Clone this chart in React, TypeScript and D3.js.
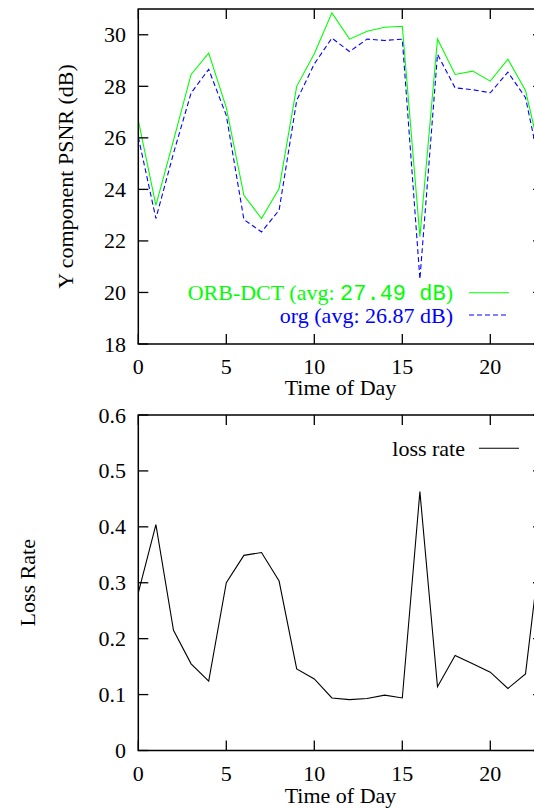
import React from "react";
import * as d3 from "d3";

const hours = d3.range(0, 24);
const orbDct = [26.68, 23.38, 25.9, 28.46, 29.29, 27.17, 23.77, 22.87, 24.03, 28.0, 29.26, 30.85, 29.83, 30.14, 30.29, 30.33, 22.16, 29.84, 28.46, 28.59, 28.2, 29.05, 27.84, 24.9];
const org = [26.03, 22.87, 25.4, 27.74, 28.66, 26.87, 22.83, 22.35, 23.19, 27.45, 28.87, 29.87, 29.35, 29.83, 29.78, 29.83, 20.52, 29.24, 27.94, 27.87, 27.75, 28.55, 27.56, 24.3];
const lossRate = [0.282, 0.404, 0.215, 0.155, 0.124, 0.3, 0.349, 0.354, 0.303, 0.146, 0.128, 0.094, 0.091, 0.093, 0.099, 0.094, 0.463, 0.114, 0.17, 0.155, 0.14, 0.111, 0.137, 0.4];
const xTicks = [0, 5, 10, 15, 20];
const psnrTicks = [18, 20, 22, 24, 26, 28, 30];
const lossTicks = [0, 0.1, 0.2, 0.3, 0.4, 0.5, 0.6];

const FONT = "'Liberation Serif', 'Times New Roman', serif";
const MONO = "'Liberation Mono', 'Courier New', monospace";
const FS = 22;

function Panel({
  top, bottom, yDomain, yTicks, yFmt, yTitle, yTitleX, titleDy, series, legend,
}: any) {
  const left = 138.3;
  const right = 543.1;
  const x = d3.scaleLinear().domain([0, 23]).range([left, right]);
  const y = d3.scaleLinear().domain(yDomain).range([bottom, top]);
  const tl = 10;
  return (
    <g>
      <defs>
        <clipPath id={`clip${top}`}>
          <rect x={left} y={top} width={right - left} height={bottom - top} />
        </clipPath>
      </defs>
      {series.map((s: any, i: number) => {
        const line = d3.line<number>().x((_, j) => x(hours[j])).y((v) => y(v));
        return (
          <path key={i} d={line(s.values) || ""} fill="none" stroke={s.color} strokeWidth={1.1}
            strokeDasharray={s.dash} clipPath={`url(#clip${top})`} />
        );
      })}
      {xTicks.map((t) => (
        <g key={"x" + t}>
          <line x1={x(t)} x2={x(t)} y1={bottom} y2={bottom - tl} stroke="#000" strokeWidth={1.3} />
          <line x1={x(t)} x2={x(t)} y1={top} y2={top + tl} stroke="#000" strokeWidth={1.3} />
          <text x={x(t)} y={bottom + 30} textAnchor="middle" fontFamily={FONT} fontSize={FS}>{t}</text>
        </g>
      ))}
      {yTicks.map((t: number) => (
        <g key={"y" + t}>
          <line x1={left} x2={left + tl} y1={y(t)} y2={y(t)} stroke="#000" strokeWidth={1.3} />
          <line x1={right} x2={right - tl} y1={y(t)} y2={y(t)} stroke="#000" strokeWidth={1.3} />
          <text x={126} y={y(t) + 7.5} textAnchor="end" fontFamily={FONT} fontSize={FS}>{yFmt(t)}</text>
        </g>
      ))}
      <rect x={left} y={top} width={right - left} height={bottom - top} fill="none" stroke="#000" strokeWidth={1.5} />
      <text x={340.5} y={bottom + titleDy} textAnchor="middle" fontFamily={FONT} fontSize={FS}>Time of Day</text>
      <text transform={`translate(${yTitleX},${(top + bottom) / 2}) rotate(-90)`} textAnchor="middle"
        dominantBaseline="central" fontFamily={FONT} fontSize={FS}>{yTitle}</text>
      {legend}
    </g>
  );
}

export default function App() {
  const top1 = 9, bot1 = 344;
  const top2 = 415, bot2 = 750.5;
  const legend1 = (
    <g>
      <text x={453} y={300} textAnchor="end" fontFamily={FONT} fontSize={FS} fill="#00ff00">
        ORB-DCT (avg: <tspan fontFamily={MONO} fontSize={22}>27.49 dB</tspan>)
      </text>
      <line x1={469} x2={509} y1={292.7} y2={292.7} stroke="#00ff00" strokeWidth={1.1} />
      <text x={453} y={322.5} textAnchor="end" fontFamily={FONT} fontSize={FS} fill="#0000ff">org (avg: 26.87 dB)</text>
      <line x1={469} x2={509} y1={315} y2={315} stroke="#0000ff" strokeWidth={1.1} strokeDasharray="5,3" />
    </g>
  );
  const legend2 = (
    <g>
      <text x={465} y={455.5} textAnchor="end" fontFamily={FONT} fontSize={FS} fill="#000">loss rate</text>
      <line x1={479} x2={519} y1={448.3} y2={448.3} stroke="#000" strokeWidth={1.1} />
    </g>
  );
  return (
    <svg width={534} height={809} style={{ position: "absolute", left: 0, top: 0, background: "#fff" }}>
      <rect width={534} height={809} fill="#fff" />
      <Panel top={top1} bottom={bot1} yDomain={[18, 31]} yTicks={psnrTicks} yFmt={(t: number) => String(t)}
        yTitle="Y component PSNR (dB)" yTitleX={65} titleDy={50.5}
        series={[
          { values: orbDct, color: "#00ff00" },
          { values: org, color: "#0000ff", dash: "5,3" },
        ]}
        legend={legend1} />
      <Panel top={top2} bottom={bot2} yDomain={[0, 0.6]} yTicks={lossTicks} yFmt={(t: number) => (t === 0 ? "0" : t.toFixed(1))}
        yTitle="Loss Rate" yTitleX={27} titleDy={52}
        series={[{ values: lossRate, color: "#000" }]}
        legend={legend2} />
    </svg>
  );
}
